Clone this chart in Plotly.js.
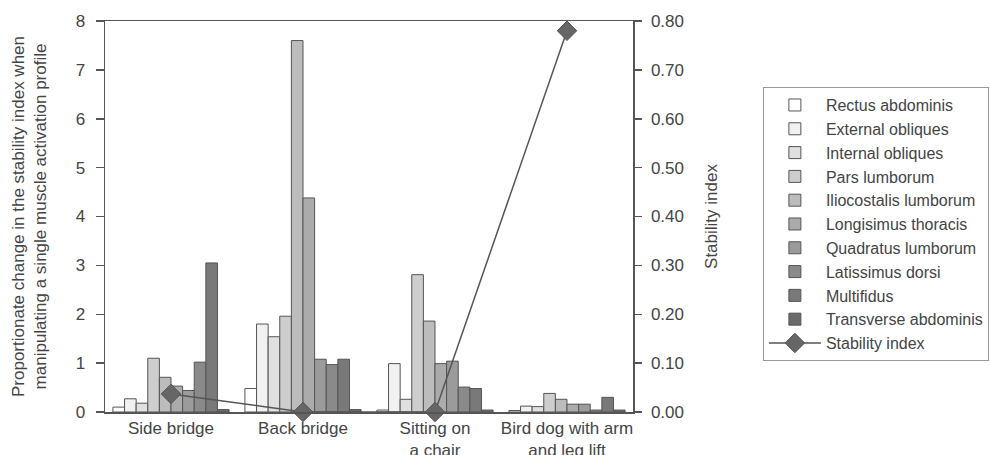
<!DOCTYPE html>
<html>
<head>
<meta charset="utf-8">
<script src="https://cdn.plot.ly/plotly-3.0.1.min.js"></script>
<style>html,body{margin:0;padding:0;background:#fff;}#chart{width:990px;height:455px;}</style>
</head>
<body>
<div id="chart"></div>
<script>
const categories = ["Side bridge", "Back bridge", "Sitting on<br>a chair", "Bird dog with arm<br>and leg lift"];
const muscles = ["Rectus abdominis", "External obliques", "Internal obliques", "Pars lumborum",
  "Iliocostalis lumborum", "Longisimus thoracis", "Quadratus lumborum", "Latissimus dorsi",
  "Multifidus", "Transverse abdominis"];
// values per muscle, across the 4 exercises
const rectusAbdominis     = [0.10, 0.48, 0.04, 0.03];
const externalObliques    = [0.27, 1.80, 0.99, 0.12];
const internalObliques    = [0.18, 1.54, 0.26, 0.11];
const parsLumborum        = [1.10, 1.96, 2.81, 0.38];
const iliocostalisLumb    = [0.71, 7.60, 1.86, 0.26];
const longisimusThoracis  = [0.53, 4.38, 0.99, 0.16];
const quadratusLumborum   = [0.44, 1.08, 1.04, 0.16];
const latissimusDorsi     = [1.02, 0.97, 0.51, 0.04];
const multifidus          = [3.05, 1.08, 0.48, 0.30];
const transverseAbdominis = [0.05, 0.05, 0.04, 0.04];
const stabilityIndex      = [0.037, 0.0, 0.0, 0.78];

const seriesValues = [rectusAbdominis, externalObliques, internalObliques, parsLumborum,
  iliocostalisLumb, longisimusThoracis, quadratusLumborum, latissimusDorsi, multifidus, transverseAbdominis];
const fills = ["#ffffff", "#f1f1f1", "#e0e0e0", "#cecece", "#bcbcbc", "#ababab", "#9b9b9b", "#8a8a8a", "#797979", "#6b6b6b"];

const textColor = "#444";
const fs = 17;
const traces = muscles.map((name, i) => ({
  type: "bar", name: name, x: categories, y: seriesValues[i],
  marker: {color: fills[i], line: {color: "#555", width: 1}},
  yaxis: "y"
}));
traces.push({
  type: "scatter", mode: "lines+markers", name: "Stability index",
  x: categories, y: stabilityIndex, yaxis: "y2", cliponaxis: false,
  line: {color: "#555", width: 1.5},
  marker: {symbol: "diamond", size: 15, color: "#666", line: {color: "#555", width: 1}}
});

const layout = {
  width: 990, height: 455,
  margin: {l: 105, r: 357, t: 21, b: 43, autoexpand: false},
  paper_bgcolor: "#fff", plot_bgcolor: "#fff",
  font: {family: "Liberation Sans, Arial, sans-serif", size: fs, color: textColor},
  barmode: "group", bargap: 0.12, bargroupgap: 0,
  showlegend: true,
  legend: {x: 1.246, y: 0.831, xanchor: "left", yanchor: "top",
    bordercolor: "#999", borderwidth: 1, bgcolor: "#fff", itemwidth: 52,
    font: {size: 16, color: textColor}, tracegroupgap: 0},
  xaxis: {
    showline: true, linecolor: "#555", linewidth: 1.5, mirror: true, automargin: false,
    ticks: "", showgrid: false, zeroline: false, tickfont: {size: fs, color: textColor},
    range: [-0.5, 3.5]
  },
  yaxis: {
    range: [0, 8], dtick: 1, showgrid: false, zeroline: false, automargin: false,
    showline: true, linecolor: "#555", linewidth: 1.5,
    ticks: "outside", ticklen: 8, tickcolor: "#555", tickwidth: 1.5, ticklabelstandoff: 7,
    tickfont: {size: fs, color: textColor},
    title: {text: "Proportionate change in the stability index when<br>manipulating a single muscle activation profile",
      font: {size: fs, color: textColor}, standoff: 24}
  },
  yaxis2: {
    overlaying: "y", side: "right", range: [0, 0.8], dtick: 0.1, tickformat: ".2f", automargin: false,
    showgrid: false, zeroline: false, showline: true, linecolor: "#555", linewidth: 1.5,
    ticks: "outside", ticklen: 7, tickcolor: "#555", tickwidth: 1.5, ticklabelstandoff: 6,
    tickfont: {size: fs, color: textColor},
    title: {text: "Stability index", font: {size: fs, color: textColor}, standoff: 22}
  }
};

Plotly.newPlot("chart", traces, layout, {displayModeBar: false, staticPlot: true});
</script>
</body>
</html>
